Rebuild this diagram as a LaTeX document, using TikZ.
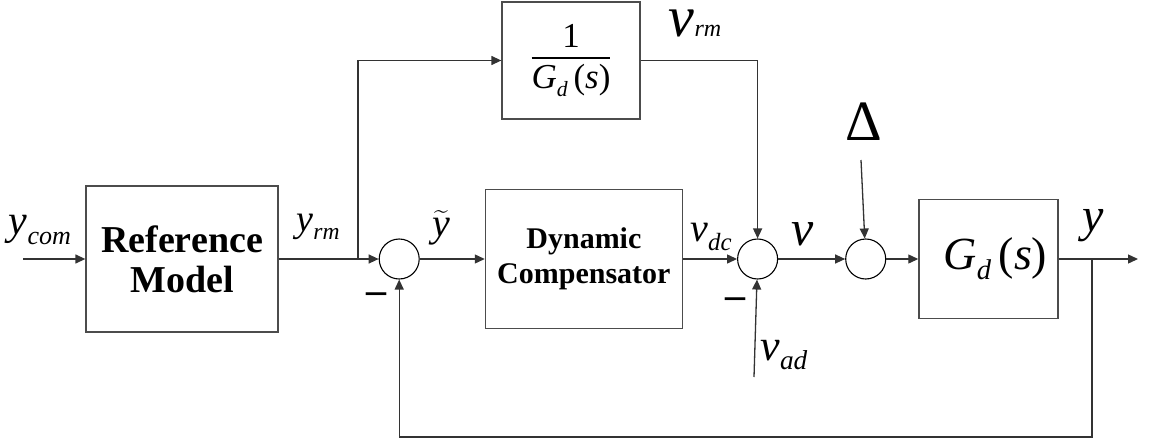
\documentclass[tikz,border=0pt]{standalone}
\usepackage{amsmath}
\usepackage{graphicx}
\usepackage{fontspec}
\setmainfont{Liberation Serif}
\usetikzlibrary{arrows.meta, positioning}
\tikzset{
  sigline/.style={line width=1.3pt, draw=black!80, -{Triangle[length=10pt,width=9pt]}},
  blockbox/.style={draw=black!70, line width=1.3pt, align=center, inner sep=0pt},
  sumnode/.style={circle, draw=black, line width=1.1pt, minimum size=40pt, inner sep=0pt},
  siglabel/.style={inner sep=0pt},
  minussign/.style={inner sep=0pt, font=\fontsize{40}{40}\selectfont\bfseries},
}
\newcommand{\sig}[2]{\textit{#1}\raisebox{-0.22em}{\scalebox{0.62}{\textit{#2}}}}
\newcommand{\fsz}[1]{\fontsize{#1}{#1}\selectfont}

\begin{document}
\begin{tikzpicture}[x=1pt, y=-1pt]
  \useasboundingbox (0,0) rectangle (1150,442);

  % blocks and summing junctions
  \node[blockbox, minimum width=192pt, minimum height=146pt,
        font=\fontsize{38}{40}\selectfont\bfseries] (refm) at (182,259) {Reference\\Model};
  \node[sumnode, right=100pt of refm] (sum1) {};
  \node[blockbox, minimum width=197pt, minimum height=139pt,
        font=\fontsize{30}{35}\selectfont\bfseries, right=65pt of sum1] (comp) {Dynamic\\Compensator};
  \node[sumnode, right=54pt of comp] (sum2) {};
  \node[sumnode, right=67pt of sum2] (sum3) {};
  \node[blockbox, minimum width=139pt, minimum height=119pt,
        font=\fsz{46}, right=32pt of sum3] (plant) {\hspace*{14pt}\sig{G}{d}\,(\textit{s})};
  \node[blockbox, minimum width=138pt, minimum height=117pt, font=\fsz{35}] (inv) at (571,60.5)
        {$\displaystyle{\text{1}\above 1.8pt \text{\sig{G}{d}\,(\textit{s})}}$};

  % free ends
  \coordinate (cin) at (23,259);
  \coordinate (cout) at (1138,259);
  \coordinate (ymbr) at (358,259);
  \coordinate (ybr) at (1092,259);
  \coordinate (fbk) at (1092,437);
  \coordinate (vadin) at (754,377);
  \coordinate (dltin) at (861,160);

  % signals
  \draw[sigline] (cin) -- (refm);
  \draw[sigline] (refm) -- (sum1);
  \draw[sigline] (ymbr) |- (inv);
  \draw[sigline] (sum1) -- (comp);
  \draw[sigline] (comp) -- (sum2);
  \draw[sigline] (inv) -| (sum2);
  \draw[sigline] (vadin) -- (sum2);
  \draw[sigline] (sum2) -- (sum3);
  \draw[sigline] (dltin) -- (sum3);
  \draw[sigline] (sum3) -- (plant);
  \draw[sigline] (plant) -- (cout);
  \draw[sigline] (ybr) -- (fbk) -| (sum1);

  % labels
  \node[siglabel, font=\fsz{42}] (lycom) at (40,230) {\sig{y}{com}};
  \node[siglabel, font=\fsz{38}] (lyrm) at (318,227) {\sig{y}{rm}};
  \node[siglabel, font=\fsz{40}] (lyt) at (441,228) {$\widetilde{\textit{y}}$};
  \node[siglabel] (lvrm) at (695,23) {{\fsz{58}\textit{v}}{\fsz{24}\textit{rm}}};
  \node[siglabel, font=\fsz{40}] (lvdc) at (711,237) {\sig{v}{dc}};
  \node[siglabel, font=\fsz{50}] (lv) at (803,234) {\textit{v}};
  \node[siglabel, font=\fsz{44}] (lvad) at (784,355) {\sig{v}{ad}};
  \node[siglabel, font=\fsz{57}] (ldlt) at (864,122) {Δ};
  \node[siglabel, font=\fsz{48}] (ly) at (1093,226) {\textit{y}};
  \node[minussign] (m1) at (376,298) {–};
  \node[minussign] (m2) at (735,303) {–};
\end{tikzpicture}
\end{document}
